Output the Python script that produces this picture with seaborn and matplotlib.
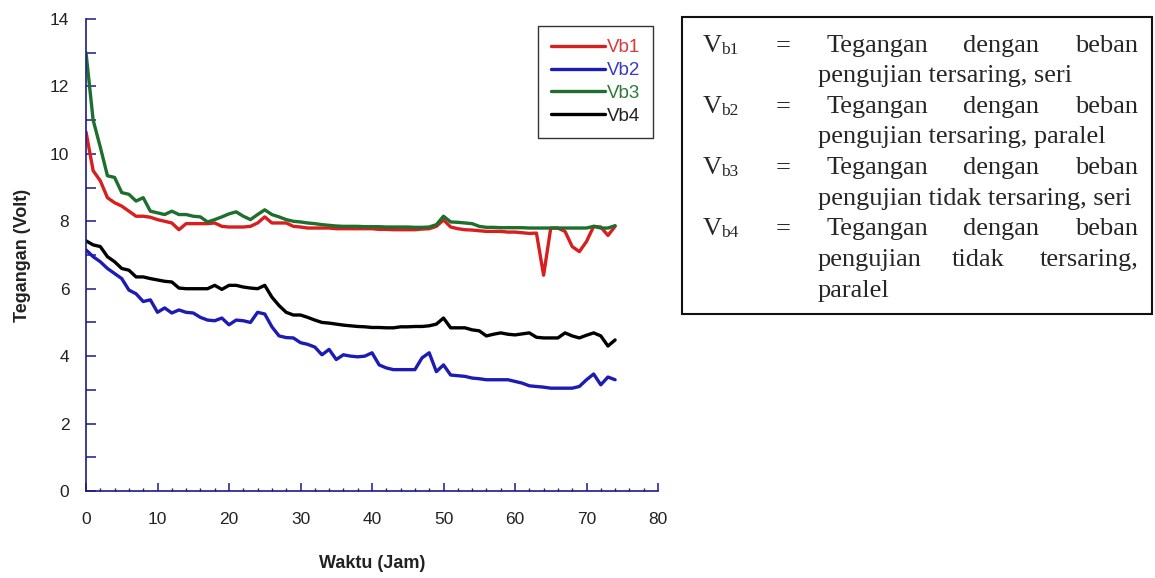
import matplotlib
matplotlib.use("Agg")
import matplotlib.pyplot as plt
from matplotlib.patches import Rectangle
from matplotlib.ticker import MultipleLocator
import seaborn as sns
import pandas as pd

hours = list(range(75))

vb1 = [10.65, 9.5, 9.2, 8.7, 8.55, 8.45, 8.3, 8.15, 8.15, 8.12,
       8.05, 8.0, 7.95, 7.75, 7.93, 7.93, 7.93, 7.93, 7.95, 7.85,
       7.83, 7.83, 7.83, 7.85, 7.95, 8.13, 7.95, 7.95, 7.95, 7.85,
       7.83, 7.8, 7.8, 7.8, 7.8, 7.78, 7.78, 7.78, 7.78, 7.78,
       7.78, 7.76, 7.76, 7.75, 7.75, 7.75, 7.75, 7.77, 7.78, 7.85,
       8.04, 7.83, 7.78, 7.75, 7.74, 7.72, 7.7, 7.7, 7.7, 7.68,
       7.68, 7.66, 7.64, 7.65, 6.4, 7.8, 7.8, 7.7, 7.25, 7.1,
       7.4, 7.85, 7.83, 7.58, 7.85]

vb2 = [7.15, 6.95, 6.8, 6.6, 6.45, 6.3, 5.96, 5.85, 5.62, 5.67,
       5.3, 5.43, 5.28, 5.37, 5.3, 5.28, 5.15, 5.07, 5.05, 5.13,
       4.93, 5.07, 5.05, 5.0, 5.3, 5.25, 4.87, 4.6, 4.55, 4.54,
       4.4, 4.35, 4.27, 4.04, 4.2, 3.9, 4.04, 4.0, 3.98, 4.0,
       4.1, 3.74, 3.65, 3.6, 3.6, 3.6, 3.6, 3.95, 4.1, 3.54,
       3.74, 3.44, 3.42, 3.4, 3.35, 3.33, 3.3, 3.3, 3.3, 3.3,
       3.25, 3.2, 3.12, 3.1, 3.08, 3.05, 3.05, 3.05, 3.05, 3.1,
       3.3, 3.47, 3.15, 3.38, 3.3]

vb3 = [13.0, 11.0, 10.2, 9.35, 9.3, 8.85, 8.8, 8.6, 8.7, 8.3,
       8.25, 8.2, 8.3, 8.2, 8.2, 8.15, 8.13, 7.98, 8.05, 8.13,
       8.22, 8.28, 8.15, 8.05, 8.2, 8.34, 8.2, 8.13, 8.05, 8.0,
       7.98, 7.95, 7.93, 7.9, 7.88, 7.86, 7.85, 7.85, 7.85, 7.84,
       7.84, 7.84, 7.83, 7.83, 7.83, 7.83, 7.82, 7.82, 7.83, 7.9,
       8.15, 7.98, 7.97, 7.95, 7.93, 7.85, 7.82, 7.82, 7.81, 7.81,
       7.81, 7.81, 7.8, 7.8, 7.8, 7.8, 7.8, 7.8, 7.8, 7.8,
       7.8, 7.85, 7.8, 7.8, 7.87]

vb4 = [7.42, 7.3, 7.25, 6.95, 6.8, 6.6, 6.55, 6.35, 6.35, 6.3,
       6.26, 6.22, 6.2, 6.02, 6.0, 6.0, 6.0, 6.0, 6.1, 5.98,
       6.1, 6.1, 6.05, 6.02, 6.0, 6.1, 5.75, 5.5, 5.3, 5.22,
       5.22, 5.15, 5.07, 5.0, 4.98, 4.95, 4.92, 4.9, 4.88, 4.87,
       4.85, 4.85, 4.84, 4.84, 4.87, 4.87, 4.88, 4.88, 4.9, 4.95,
       5.13, 4.84, 4.84, 4.84, 4.78, 4.75, 4.6, 4.65, 4.69, 4.65,
       4.63, 4.66, 4.69, 4.56, 4.54, 4.54, 4.54, 4.69, 4.6, 4.54,
       4.62, 4.69, 4.6, 4.3, 4.48]

series_names = ["Vb1", "Vb2", "Vb3", "Vb4"]
series_values = [vb1, vb2, vb3, vb4]
colors = ["#d81e1e", "#1c1cb4", "#1e6e2d", "#000000"]
legend_text_colors = ["#d83a3a", "#3a3ac0", "#2e7a3a", "#222222"]

x_ticks = [0, 10, 20, 30, 40, 50, 60, 70, 80]
y_ticks = [0, 2, 4, 6, 8, 10, 12, 14]

notes_sym = ["b1", "b2", "b3", "b4"]
notes_line1 = ["Tegangan", "dengan", "beban"]
notes_line2 = ["pengujian tersaring, seri",
               "pengujian tersaring, paralel",
               "pengujian tidak tersaring, seri",
               None]
notes_line2_b4 = ["pengujian", "tidak", "tersaring,"]
notes_line3_b4 = "paralel"

rows = []
for name, vals in zip(series_names, series_values):
    for h, v in zip(hours, vals):
        rows.append({"Waktu": h, "Tegangan": v, "Seri": name})
df = pd.DataFrame(rows)

sns.set_style("white")
plt.rcParams["font.family"] = ["Liberation Sans", "DejaVu Sans"]

W, H = 1155, 578
fig = plt.figure(figsize=(W / 100, H / 100), dpi=100)
ax = fig.add_axes([86 / W, 1 - 491 / H, (658 - 86) / W, (491 - 19) / H])

sns.lineplot(data=df, x="Waktu", y="Tegangan", hue="Seri",
             hue_order=series_names, palette=dict(zip(series_names, colors)),
             linewidth=2.4, ax=ax, legend=True)

ax.set_xlim(0, 80)
ax.set_ylim(0, 14)
ax.set_xticks(x_ticks)
ax.set_yticks(y_ticks)
ax.xaxis.set_minor_locator(MultipleLocator(2))
ax.yaxis.set_minor_locator(MultipleLocator(1))

spine_col = "#1a1a8a"
for s in ["top", "right"]:
    ax.spines[s].set_visible(False)
for s in ["left", "bottom"]:
    ax.spines[s].set_color(spine_col)
    ax.spines[s].set_linewidth(1.2)

ax.tick_params(axis="x", which="major", direction="in", length=5.5, width=1.1,
               color=spine_col, labelsize=12.5, labelcolor="#222222", pad=15)
ax.tick_params(axis="x", which="minor", direction="in", length=2.5, width=1.0,
               color=spine_col)
ax.tick_params(axis="y", which="both", direction="in", length=7, width=1.1,
               color=spine_col, labelsize=12.5, labelcolor="#222222", pad=12)
ax.tick_params(bottom=True, left=True, which="both")

ax.set_xlabel("Waktu (Jam)", fontsize=13, fontweight="bold", color="#222222", labelpad=20)
ax.set_ylabel("Tegangan (Volt)", fontsize=13, fontweight="bold", color="#222222", labelpad=14)
ax.grid(False)

handles, labels = ax.get_legend_handles_labels()
leg = ax.legend(handles, labels, loc="upper right", bbox_to_anchor=(0.992, 0.985),
                frameon=True, fancybox=False, edgecolor="#333333", framealpha=1,
                fontsize=13.5, handlelength=2.9, handletextpad=0.1,
                labelspacing=0.3, borderpad=0.7, borderaxespad=0.0)
leg.get_frame().set_linewidth(1.0)
for txt, c in zip(leg.get_texts(), legend_text_colors):
    txt.set_color(c)
for lh in leg.get_lines():
    lh.set_linewidth(2.4)

# Notes box (right)
def fx(px):
    return px / W

def fy(py):
    return 1 - py / H

fig.patches.append(Rectangle((fx(682), fy(314)), (1152 - 682) / W, (314 - 17) / H,
                             transform=fig.transFigure, fill=False,
                             edgecolor="#111111", linewidth=1.5))

serif = ["Liberation Serif", "DejaVu Serif"]
fs = 19
base0 = 51.7
step = 30.6
for i, sub in enumerate(notes_sym):
    yb = base0 + 2 * i * step
    fig.text(fx(703), fy(yb), "V", family=serif, fontsize=fs, va="baseline", ha="left")
    fig.text(fx(721), fy(yb + 2), sub, family=serif, fontsize=12.5, va="baseline", ha="left")
    fig.text(fx(783), fy(yb), "=", family=serif, fontsize=fs, va="baseline", ha="center")
    fig.text(fx(827), fy(yb), notes_line1[0], family=serif, fontsize=fs, va="baseline", ha="left")
    fig.text(fx(1001), fy(yb), notes_line1[1], family=serif, fontsize=fs, va="baseline", ha="center")
    fig.text(fx(1138), fy(yb), notes_line1[2], family=serif, fontsize=fs, va="baseline", ha="right")
    y2 = yb + step
    if notes_line2[i] is not None:
        fig.text(fx(818), fy(y2), notes_line2[i], family=serif, fontsize=fs, va="baseline", ha="left")
    else:
        fig.text(fx(818), fy(y2), notes_line2_b4[0], family=serif, fontsize=fs, va="baseline", ha="left")
        fig.text(fx(978), fy(y2), notes_line2_b4[1], family=serif, fontsize=fs, va="baseline", ha="center")
        fig.text(fx(1138), fy(y2), notes_line2_b4[2], family=serif, fontsize=fs, va="baseline", ha="right")
        fig.text(fx(818), fy(y2 + step), notes_line3_b4, family=serif, fontsize=fs, va="baseline", ha="left")

fig.savefig("out.png", dpi=100)
